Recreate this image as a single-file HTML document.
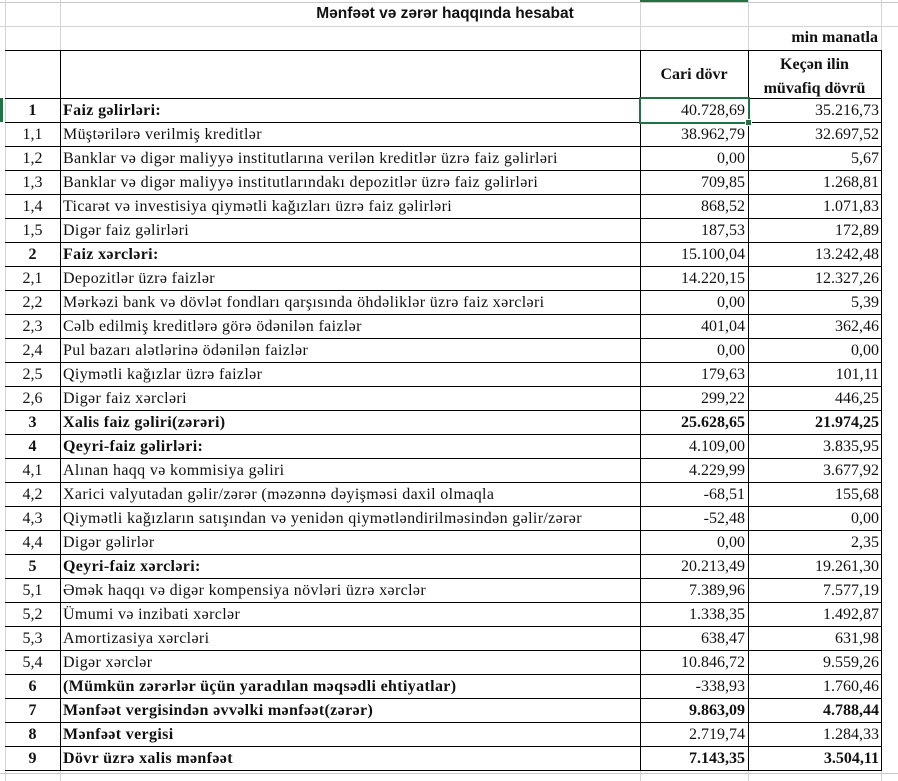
<!DOCTYPE html>
<html><head><meta charset="utf-8"><style>
body{margin:0;width:898px;height:781px;background:#fff;position:relative;overflow:hidden;font-family:"Liberation Serif",serif;font-size:16px;color:#111}
.a{position:absolute}
.h{position:absolute;height:1px}
.v{position:absolute;width:1px}
.r{position:absolute;height:24px;line-height:26px;white-space:nowrap}
.t{letter-spacing:0.35px}
.b{font-weight:bold}
</style></head><body>
<div class="h" style="left:0;top:2px;width:898px;background:#c8c8c8"></div>
<div class="h" style="left:0;top:26px;width:898px;background:#d4d4d4"></div>
<div class="v" style="left:5px;top:0;height:781px;background:#d4d4d4"></div>
<div class="v" style="left:60px;top:0;height:50px;background:#d4d4d4"></div>
<div class="v" style="left:640px;top:0;height:50px;background:#d4d4d4"></div>
<div class="v" style="left:748px;top:0;height:50px;background:#d4d4d4"></div>
<div class="v" style="left:881px;top:0;height:781px;background:#d4d4d4"></div>
<div class="h" style="left:0;top:773px;width:898px;background:#c8c8c8"></div>
<div class="v" style="left:640px;top:770px;height:11px;background:#d4d4d4"></div>
<div class="v" style="left:748px;top:770px;height:11px;background:#d4d4d4"></div>
<div class="v" style="left:60px;top:770px;height:11px;background:#d4d4d4"></div>
<div class="a" style="left:640px;top:0;width:108px;height:2px;background:#217346"></div>
<div class="a b" style="left:60px;top:5px;width:770px;text-align:center;font-family:'Liberation Sans',sans-serif;font-size:15.5px">Mənfəət və zərər haqqında hesabat</div>
<div class="a b" style="left:748px;top:29px;width:130px;text-align:right">min manatla</div>
<div class="h" style="left:5px;top:50px;width:877px;background:#000"></div>
<div class="v" style="left:60px;top:50px;height:720px;background:#000"></div>
<div class="v" style="left:640px;top:50px;height:720px;background:#000"></div>
<div class="v" style="left:748px;top:50px;height:720px;background:#000"></div>
<div class="v" style="left:881px;top:50px;height:720px;background:#000"></div>
<div class="a b" style="left:640px;top:66px;width:108px;text-align:center">Cari dövr</div>
<div class="a b" style="left:748px;top:53px;width:133px;text-align:center;line-height:24px">Keçən ilin<br>müvafiq dövrü</div>
<div id="rows"></div>
<div class="a" style="left:0;top:98px;width:3px;height:24px;background:#217346"></div>
<div class="a" style="left:639px;top:97px;width:107px;height:23px;border:2px solid #217346"></div>
<div class="a" style="left:745px;top:119px;width:5px;height:5px;background:#217346;border:1px solid #fff"></div>
<script>
var d=[
["1","Faiz gəlirləri:","40.728,69","35.216,73",1],
["1,1","Müştərilərə verilmiş kreditlər","38.962,79","32.697,52"],
["1,2","Banklar və digər maliyyə institutlarına verilən kreditlər üzrə faiz gəlirləri","0,00","5,67"],
["1,3","Banklar və digər maliyyə institutlarındakı depozitlər üzrə faiz gəlirləri","709,85","1.268,81"],
["1,4","Ticarət və investisiya qiymətli kağızları üzrə faiz gəlirləri","868,52","1.071,83"],
["1,5","Digər faiz gəlirləri","187,53","172,89"],
["2","Faiz xərcləri:","15.100,04","13.242,48",1],
["2,1","Depozitlər üzrə faizlər","14.220,15","12.327,26"],
["2,2","Mərkəzi bank və dövlət fondları qarşısında öhdəliklər üzrə faiz xərcləri","0,00","5,39"],
["2,3","Cəlb edilmiş kreditlərə görə ödənilən faizlər","401,04","362,46"],
["2,4","Pul bazarı alətlərinə ödənilən faizlər","0,00","0,00"],
["2,5","Qiymətli kağızlar üzrə faizlər","179,63","101,11"],
["2,6","Digər faiz xərcləri","299,22","446,25"],
["3","Xalis faiz gəliri(zərəri)","25.628,65","21.974,25",2],
["4","Qeyri-faiz gəlirləri:","4.109,00","3.835,95",1],
["4,1","Alınan haqq və kommisiya gəliri","4.229,99","3.677,92"],
["4,2","Xarici valyutadan gəlir/zərər (məzənnə dəyişməsi daxil olmaqla","-68,51","155,68"],
["4,3","Qiymətli kağızların satışından və yenidən qiymətləndirilməsindən gəlir/zərər","-52,48","0,00"],
["4,4","Digər gəlirlər","0,00","2,35"],
["5","Qeyri-faiz xərcləri:","20.213,49","19.261,30",1],
["5,1","Əmək haqqı və digər kompensiya növləri üzrə xərclər","7.389,96","7.577,19"],
["5,2","Ümumi və inzibati xərclər","1.338,35","1.492,87"],
["5,3","Amortizasiya xərcləri","638,47","631,98"],
["5,4","Digər xərclər","10.846,72","9.559,26"],
["6","(Mümkün zərərlər üçün yaradılan məqsədli ehtiyatlar)","-338,93","1.760,46",1],
["7","Mənfəət vergisindən əvvəlki mənfəət(zərər)","9.863,09","4.788,44",2],
["8","Mənfəət vergisi","2.719,74","1.284,33",1],
["9","Dövr üzrə xalis mənfəət","7.143,35","3.504,11",2]];
var h="";
d.forEach(function(r,i){var y=98+i*24;var nb=r[4]?"b":"";var vb=r[4]==2?"b":"";
h+='<div class="h" style="left:5px;top:'+y+'px;width:877px;background:#000"></div>';
h+='<div class="r '+nb+'" style="left:5px;top:'+y+'px;width:55px;text-align:center">'+r[0]+'</div>';
h+='<div class="r t '+nb+'" style="left:63px;top:'+y+'px">'+r[1]+'</div>';
h+='<div class="r '+vb+'" style="left:640px;top:'+y+'px;width:105px;text-align:right">'+r[2]+'</div>';
h+='<div class="r '+vb+'" style="left:748px;top:'+y+'px;width:131px;text-align:right">'+r[3]+'</div>';});
h+='<div class="h" style="left:5px;top:770px;width:877px;background:#000"></div>';
document.getElementById("rows").innerHTML=h;
</script>
</body></html>
